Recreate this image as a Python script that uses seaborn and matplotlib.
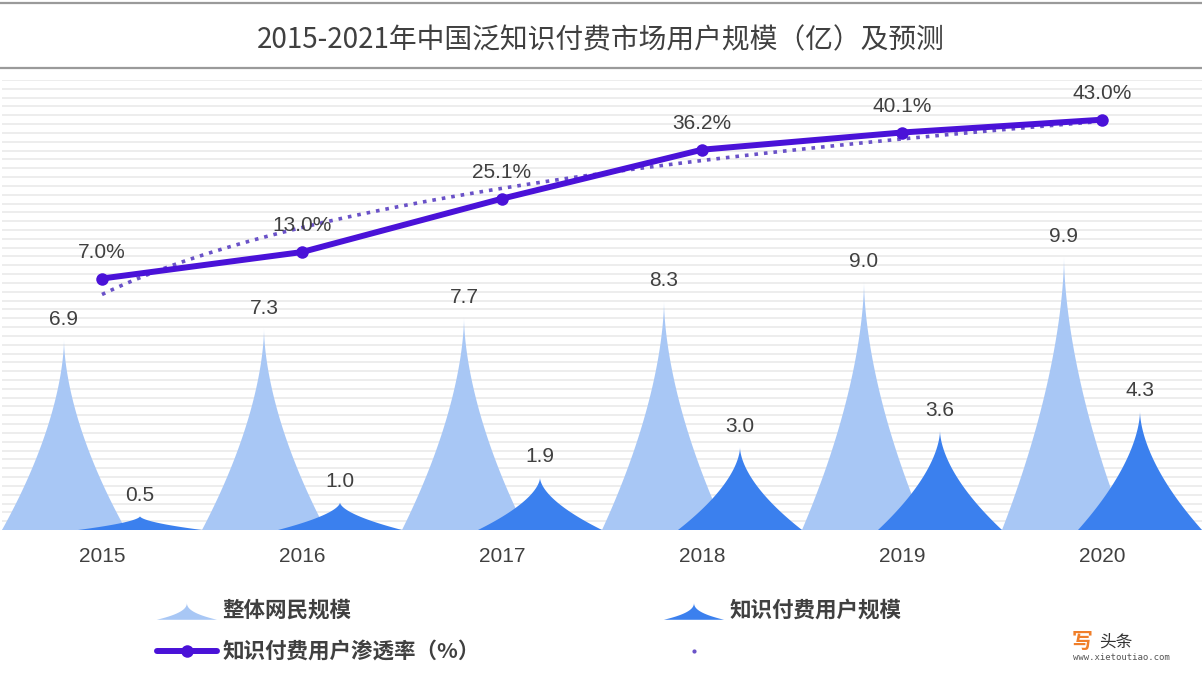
import numpy as np
import matplotlib.pyplot as plt
import seaborn as sns
from matplotlib.legend_handler import HandlerBase
from matplotlib.patches import Polygon, Patch
from matplotlib.lines import Line2D

# ---------------- data ----------------
years = ['2015', '2016', '2017', '2018', '2019', '2020']
netizens = [6.9, 7.3, 7.7, 8.3, 9.0, 9.9]          # 整体网民规模（亿）
paid_users = [0.5, 1.0, 1.9, 3.0, 3.6, 4.3]        # 知识付费用户规模（亿）
penetration = [7.0, 13.0, 25.1, 36.2, 40.1, 43.0]  # 渗透率（%）

LIGHT = '#a8c7f5'
DARK = '#3b80ee'
PURPLE = '#4a12d8'
TREND = '#6a52c8'
TXT = '#404040'

sns.set_theme(style='white')
plt.rcParams['font.family'] = ['Liberation Sans', 'Noto Sans CJK SC', 'DejaVu Sans']
CJK = ['Noto Sans CJK SC', 'DejaVu Sans']


def spike_xy(center, width, height, k=1.7, n=80):
    """concave 'spike' outline, base centred on `center`"""
    h = np.linspace(0, 1, n)
    half = 0.5 * width * (1 - h) ** k
    xs = np.concatenate([center - half, (center + half)[::-1]])
    ys = np.concatenate([h * height, (h * height)[::-1]])
    return xs, ys


class SpikeHandler(HandlerBase):
    def create_artists(self, legend, orig_handle, xdescent, ydescent,
                       width, height, fontsize, trans):
        xs, ys = spike_xy(width / 2 - xdescent, width, height * 1.15, k=2.4)
        ys = ys - ydescent - height * 0.2
        p = Polygon(np.column_stack([xs, ys]), closed=True,
                    facecolor=orig_handle.get_facecolor(), edgecolor='none',
                    transform=trans)
        return [p]


fig = plt.figure(figsize=(12.02, 6.76), dpi=100)
ax = fig.add_axes([2 / 1202, 146 / 676, 1200 / 1202, 450 / 676])
ax2 = ax.twinx()

pos = np.arange(1, len(years) + 1)
off, bw = 0.19, 0.62

# background stripes
ax.set_ylim(0, 16.33)
ax.set_yticks(np.linspace(0, 16.33, 52))
ax.set_yticklabels([])
ax.grid(axis='y', color='#e8e8e8', lw=1.1)
ax.set_axisbelow(True)

for x, v in zip(pos, netizens):
    xs, ys = spike_xy(x - off, bw, v)
    ax.fill(xs, ys, color=LIGHT, lw=0, zorder=2)
    ax.annotate(f'{v:.1f}', (x - off, v), xytext=(0, 11), textcoords='offset points',
                ha='center', va='baseline', fontsize=15, color=TXT)
for x, v in zip(pos, paid_users):
    xs, ys = spike_xy(x + off, bw, v)
    ax.fill(xs, ys, color=DARK, lw=0, zorder=3)
    ax.annotate(f'{v:.1f}', (x + off, v), xytext=(0, 11), textcoords='offset points',
                ha='center', va='baseline', fontsize=15, color=TXT)

ax.set_xlim(0.5, len(years) + 0.5)
ax.set_xticks(pos)
ax.set_xticklabels(years, fontsize=15, color=TXT)
ax.tick_params(axis='x', length=0, pad=12)
ax.tick_params(axis='y', length=0)

# penetration line + log trendline
sns.regplot(x=pos, y=penetration, logx=True, ci=None, scatter=False, ax=ax2,
            line_kws=dict(color=TREND, lw=2.6, ls=':'))
sns.lineplot(x=pos, y=penetration, ax=ax2, color=PURPLE, lw=4.3, marker='o',
             markersize=9, markeredgewidth=0)
for x, v in zip(pos, penetration):
    ax2.annotate(f'{v:.1f}%', (x, v), xytext=(0, 15), textcoords='offset points',
                 ha='center', va='baseline', fontsize=15, color=TXT)
ax2.set_ylim(-50, 52)
ax2.set_yticks([])
ax2.set_xlim(0.5, len(years) + 0.5)

for a in (ax, ax2):
    for s in a.spines.values():
        s.set_visible(False)
    a.set_xlabel('')
    a.set_ylabel('')

# title and rules
fig.text(0.5, 1 - 40 / 676, '2015-2021年中国泛知识付费市场用户规模（亿）及预测',
         ha='center', va='center', fontsize=20, color=TXT, family=CJK)
fig.add_artist(Line2D([0, 1], [1 - 3 / 676] * 2, color='#9a9a9a', lw=1.6))
fig.add_artist(Line2D([0, 1], [1 - 68 / 676] * 2, color='#9a9a9a', lw=1.6))

# legend
handles = [Patch(facecolor=LIGHT),
           Line2D([], [], color=PURPLE, lw=4.3, marker='o', markersize=9, markeredgewidth=0),
           Patch(facecolor=DARK),
           Line2D([], [], color=TREND, ls='none', marker='o', markersize=2)]
labels = ['整体网民规模', '知识付费用户渗透率（%）', '知识付费用户规模', '']
leg = fig.legend(handles, labels, loc='upper left', bbox_to_anchor=(146 / 1202, 1 - 589 / 676),
                 ncol=2, frameon=False, borderpad=0, handlelength=2.8, handletextpad=0.25,
                 columnspacing=8.55, labelspacing=0.95,
                 handler_map={Patch: SpikeHandler()},
                 prop=dict(family=CJK, weight='bold', size=15.5))
for t in leg.get_texts():
    t.set_color(TXT)

# watermark
fig.text(1072 / 1202, 1 - 641 / 676, '写', fontsize=15, color='#f07f2a', weight='bold',
         family=CJK, ha='left', va='center')
fig.text(1099 / 1202, 1 - 642 / 676, '头条', fontsize=12, color='#333333',
         family=CJK, ha='left', va='center')
fig.text(1073 / 1202, 1 - 657 / 676, 'www.xietoutiao.com', fontsize=6.5, color='#555555',
         family='DejaVu Sans Mono', ha='left', va='center')

fig.savefig('out.png', dpi=100)
